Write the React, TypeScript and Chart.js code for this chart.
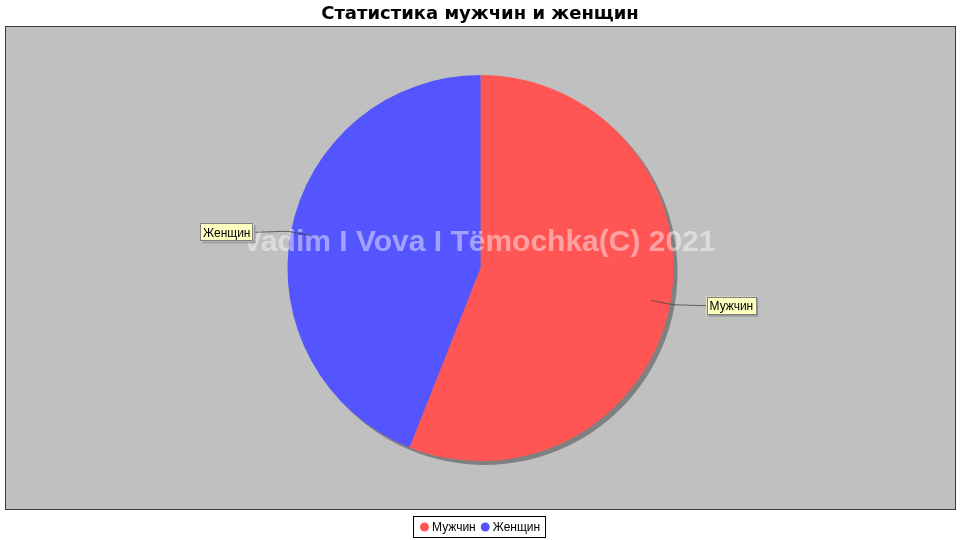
import React, { useEffect, useRef } from "react";
import { Chart, registerables } from "chart.js";

Chart.register(...registerables);

const titleText = "Статистика мужчин и женщин";
const categories = ["Мужчин", "Женщин"];
const values = [56, 44];
const colors = ["#FF5555", "#5555FF"];
const watermark = "Vadim I Vova I Tёmochka(C) 2021";

const W = 960;
const H = 540;
const PLOT = { left: 5, top: 26, right: 956, bottom: 510 };

const bgPlugin = {
  id: "bgPlugin",
  beforeDraw(chart: any) {
    const ctx = chart.ctx;
    ctx.save();
    ctx.fillStyle = "#ffffff";
    ctx.fillRect(0, 0, W, H);
    ctx.fillStyle = "#C0C0C0";
    ctx.fillRect(PLOT.left, PLOT.top, PLOT.right - PLOT.left, PLOT.bottom - PLOT.top);
    ctx.strokeStyle = "#3a3a3a";
    ctx.lineWidth = 1;
    ctx.strokeRect(PLOT.left + 0.5, PLOT.top + 0.5, PLOT.right - PLOT.left - 1, PLOT.bottom - PLOT.top - 1);
    // title
    ctx.fillStyle = "#000";
    ctx.font = "bold 18px 'DejaVu Sans', sans-serif";
    ctx.textAlign = "center";
    ctx.textBaseline = "middle";
    ctx.fillText(titleText, 480, 14);
    ctx.restore();
  },
  beforeDatasetsDraw(chart: any) {
    const meta = chart.getDatasetMeta(0);
    const arc = meta.data[0];
    if (!arc) return;
    const { x, y, outerRadius } = arc.getProps(["x", "y", "outerRadius"], true);
    const ctx = chart.ctx;
    ctx.save();
    ctx.fillStyle = "#808080";
    ctx.beginPath();
    ctx.arc(x + 4, y + 4, outerRadius, 0, Math.PI * 2);
    ctx.fill();
    ctx.restore();
  },
  afterDatasetsDraw(chart: any) {
    const ctx = chart.ctx;
    const meta = chart.getDatasetMeta(0);
    // watermark
    ctx.save();
    ctx.font = "bold 30px 'Liberation Sans', Arial, sans-serif";
    ctx.fillStyle = "rgba(255,255,255,0.45)";
    ctx.textAlign = "center";
    ctx.textBaseline = "middle";
    ctx.fillText(watermark, 479, 243);
    ctx.restore();

    // labels
    meta.data.forEach((el: any, i: number) => {
      const p = el.getProps(["x", "y", "startAngle", "endAngle", "outerRadius"], true);
      const a = (p.startAngle + p.endAngle) / 2;
      const dx = Math.cos(a);
      const dy = Math.sin(a);
      const r = p.outerRadius;
      const sx = p.x + dx * r * 0.9;
      const sy = p.y + dy * r * 0.9;
      const ex = p.x + dx * (r + 3);
      const ey = p.y + dy * (r + 3);
      const right = dx >= 0;
      ctx.save();
      ctx.font = "12px 'Liberation Sans', Arial, sans-serif";
      const tw = ctx.measureText(categories[i]).width;
      const bw = tw + 6;
      const bh = 18;
      const bx = right ? p.x + r + 33 : p.x - r - 34 - bw;
      const by = ey + 1 - bh / 2;
      ctx.strokeStyle = "#444";
      ctx.lineWidth = 0.8;
      ctx.beginPath();
      ctx.moveTo(sx, sy);
      ctx.lineTo(ex, ey);
      ctx.lineTo(right ? bx : bx + bw, ey + 1);
      ctx.stroke();
      // shadow
      ctx.fillStyle = "#9a9a9a";
      ctx.fillRect(bx + 2, by + 2, bw, bh);
      ctx.fillStyle = "#FFFFC0";
      ctx.fillRect(bx, by, bw, bh);
      ctx.strokeStyle = "#808080";
      ctx.lineWidth = 1;
      ctx.strokeRect(Math.round(bx) + 0.5, Math.round(by) + 0.5, Math.round(bw) - 1, bh - 1);
      ctx.fillStyle = "#000";
      ctx.textBaseline = "middle";
      ctx.textAlign = "left";
      ctx.fillText(categories[i], bx + 3, by + bh / 2 + 1);
      ctx.restore();
    });

    // legend
    ctx.save();
    ctx.font = "12px 'Liberation Sans', Arial, sans-serif";
    const items = categories.map((c) => ctx.measureText(c).width);
    const itemW = items.map((w) => 4 + 9 + 4 + w);
    const total = itemW.reduce((s, v) => s + v, 0) + 4 + 4;
    const lx = Math.round(480 - total / 2);
    const ly = 516;
    const lh = 22;
    ctx.fillStyle = "#fff";
    ctx.fillRect(lx, ly, total, lh);
    ctx.strokeStyle = "#000";
    ctx.lineWidth = 1;
    ctx.strokeRect(lx + 0.5, ly + 0.5, Math.round(total) - 1, lh - 1);
    let cx = lx + 3;
    categories.forEach((c, i) => {
      ctx.fillStyle = colors[i];
      ctx.beginPath();
      ctx.arc(cx + 4 + 4.5, ly + lh / 2, 4.5, 0, Math.PI * 2);
      ctx.fill();
      ctx.fillStyle = "#000";
      ctx.textBaseline = "middle";
      ctx.fillText(c, cx + 4 + 9 + 3, ly + lh / 2 + 1);
      cx += itemW[i];
    });
    ctx.restore();
  },
};

export default function App() {
  const ref = useRef<HTMLCanvasElement>(null);
  useEffect(() => {
    if (!ref.current) return;
    const chart = new Chart(ref.current, {
      type: "pie",
      data: {
        labels: categories,
        datasets: [
          {
            data: values,
            backgroundColor: colors,
            borderWidth: 0,
            radius: 193,
          } as any,
        ],
      },
      options: {
        responsive: false,
        animation: false,
        layout: {
          padding: { left: PLOT.left, top: PLOT.top, right: W - PLOT.right, bottom: H - PLOT.bottom },
        },
        plugins: {
          legend: { display: false },
          title: { display: false },
          tooltip: { enabled: false },
        },
      },
      plugins: [bgPlugin],
    });
    return () => chart.destroy();
  }, []);
  return (
    <div style={{ position: "absolute", left: 0, top: 0, width: W, height: H }}>
      <canvas ref={ref} width={W} height={H} style={{ display: "block", width: W, height: H }} />
    </div>
  );
}
